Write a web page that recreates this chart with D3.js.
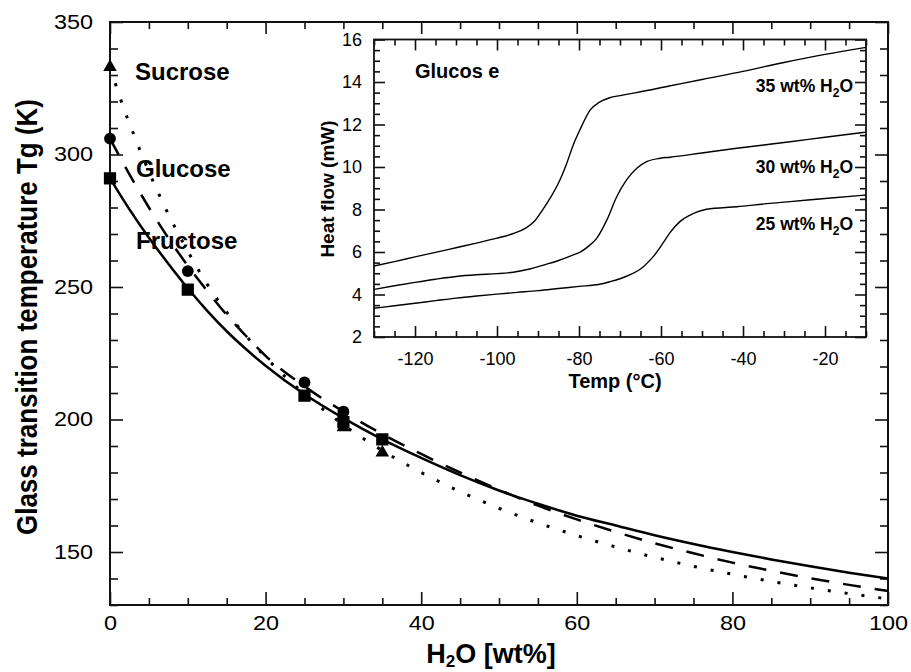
<!DOCTYPE html>
<html>
<head>
<meta charset="utf-8">
<script src="https://cdn.jsdelivr.net/npm/d3@7"></script>
<style>
  body { margin: 0; background: #fff; }
  svg { display: block; }
  text { font-family: "Liberation Sans", Arial, Helvetica, sans-serif; fill: #000; }
</style>
</head>
<body>
<svg id="chart" width="911" height="672"></svg>
<script>
// ---- Main panel: glass transition temperature vs. water content ----
// Fitted curves (water wt%, Tg in K)
const fructoseFitWater = [0, 2.5, 5, 7.5, 10, 12.5, 15, 17.5, 20, 25, 30, 35, 40, 45, 50, 55, 60, 65, 70, 75, 80, 85, 90, 95, 100];
const fructoseFitTg    = [291, 279.3, 268.6, 258.8, 249.5, 241, 233.3, 226.5, 220.3, 209.5, 200.5, 192.5, 185.5, 179, 173.2, 168.2, 163.7, 160, 156.3, 153, 150, 147.2, 144.6, 142.2, 140];

const glucoseFitWater = [0, 2.5, 5, 7.5, 10, 12.5, 15, 17.5, 20, 25, 30, 35, 40, 45, 50, 55, 60, 65, 70, 75, 80, 85, 90, 95, 100];
const glucoseFitTg    = [306, 292.5, 280, 268.5, 258, 248.5, 239.5, 231.5, 224, 212.5, 203, 194.5, 187, 180, 173.5, 167.5, 162.3, 157.6, 153.3, 149.5, 146, 142.9, 140.1, 137.6, 135.3];

const sucroseFitWater = [0, 1, 2, 3, 4, 5, 7.5, 10, 12.5, 15, 17.5, 20, 22.5, 25, 27.5, 30, 35, 40, 45, 50, 55, 60, 65, 70, 75, 80, 85, 90, 95, 100];
const sucroseFitTg    = [333, 324, 315.5, 308, 300.5, 293.5, 277.5, 263.5, 251, 240.5, 231.5, 223.5, 216.2, 209.6, 203.6, 198, 188.3, 180, 172.8, 166.5, 161, 156.2, 151.9, 148, 144.6, 141.6, 138.9, 136.5, 134.3, 132.3];

// Measured points
const fructoseWater = [0, 10, 25, 30, 35];
const fructoseTg    = [291, 249, 209, 199, 192.5];
const glucoseWater  = [0, 10, 25, 30];
const glucoseTg     = [306, 256, 214, 203];
const sucroseWater  = [0, 30, 35];
const sucroseTg     = [333, 197, 187.5];

// Axis ticks
const waterTicks = [0, 20, 40, 60, 80, 100];
const tgTicks    = [150, 200, 250, 300, 350];

// ---- Inset: DSC heat-flow traces for glucose ----
const dsc35Temp = [-130, -125, -120, -115, -110, -105, -100, -96, -93, -91, -89, -87, -85, -83, -81.4, -79.8, -77.3, -75, -72.5, -70, -66, -58, -50, -40, -30, -20, -10];
const dsc35Heat = [5.34, 5.55, 5.77, 5.98, 6.2, 6.42, 6.65, 6.87, 7.12, 7.42, 7.95, 8.55, 9.25, 10.17, 11.04, 11.74, 12.68, 13.05, 13.26, 13.36, 13.5, 13.81, 14.12, 14.5, 14.92, 15.3, 15.63];

const dsc30Temp = [-130, -125, -120, -115, -110, -105, -100, -96, -92, -88, -85, -82, -79.5, -77.5, -75.7, -73.2, -70.8, -68.4, -65.9, -63.5, -60.2, -57.8, -50, -41.5, -33.5, -28.5, -20, -10];
const dsc30Heat = [4.24, 4.41, 4.57, 4.72, 4.85, 4.93, 4.98, 5.05, 5.2, 5.42, 5.6, 5.82, 6.02, 6.3, 6.64, 7.51, 8.6, 9.39, 9.94, 10.25, 10.41, 10.46, 10.66, 10.88, 11.07, 11.19, 11.4, 11.64];

const dsc25Temp = [-130, -125, -120, -115, -110, -105, -100, -95, -90, -85, -80, -75, -72.5, -70, -67.5, -64.3, -61.9, -59.4, -57.8, -55.4, -52.9, -50.5, -48.9, -41.5, -33.4, -28.5, -20, -10];
const dsc25Heat = [3.35, 3.47, 3.59, 3.71, 3.83, 3.93, 4.02, 4.1, 4.18, 4.28, 4.38, 4.48, 4.6, 4.74, 4.93, 5.31, 5.78, 6.45, 6.91, 7.43, 7.74, 7.93, 8.01, 8.13, 8.29, 8.37, 8.52, 8.68];

const dscLabels = ["35", "30", "25"];
const tempTicks = [-120, -100, -80, -60, -40, -20];
const heatTicks = [2, 4, 6, 8, 10, 12, 14, 16];

const svg = d3.select("#chart");
svg.append("rect").attr("width", 911).attr("height", 672).attr("fill", "#fff");

const zip = (a, b) => a.map((v, i) => [v, b[i]]);

// Draw a set of inward ticks (majors with labels, minors without)
function tickSet(g, axisGen, values, len, fmt, pad) {
  g.call(axisGen.tickValues(values).tickSizeInner(-len).tickSizeOuter(0)
    .tickPadding(pad).tickFormat(fmt));
  g.select(".domain").remove();
  g.selectAll(".tick line").attr("stroke", "#111").attr("stroke-width", 1.6);
  g.attr("font-family", null).attr("font-size", null);
  return g;
}

// ================= Main panel =================
const x = d3.scaleLinear().domain([0, 100]).range([110, 888]);
const y = d3.scaleLinear().domain([130, 350]).range([605, 22]);
const main = svg.append("g");

const xMinor = d3.range(0, 101, 5).filter(v => !waterTicks.includes(v));
const yMinor = d3.range(130, 351, 10).filter(v => !tgTicks.includes(v));

// bottom
const bMaj = tickSet(main.append("g").attr("transform", `translate(0,${y.range()[0]})`),
  d3.axisBottom(x), waterTicks, 13, d => d, 11);
bMaj.selectAll(".tick text").attr("font-size", 19.5).attr("transform", "scale(1.2,1)");
tickSet(main.append("g").attr("transform", `translate(0,${y.range()[0]})`),
  d3.axisBottom(x), xMinor, 7, () => "", 0);
// top
tickSet(main.append("g").attr("transform", `translate(0,${y.range()[1]})`),
  d3.axisTop(x), waterTicks, 12, () => "", 0);
tickSet(main.append("g").attr("transform", `translate(0,${y.range()[1]})`),
  d3.axisTop(x), xMinor, 7, () => "", 0);
// left
const lMaj = tickSet(main.append("g").attr("transform", `translate(${x.range()[0]},0)`),
  d3.axisLeft(y), tgTicks, 13, d => d, 14.2);
lMaj.selectAll(".tick text").attr("font-size", 19.5).attr("transform", "scale(1.2,1)");
tickSet(main.append("g").attr("transform", `translate(${x.range()[0]},0)`),
  d3.axisLeft(y), yMinor, 8, () => "", 0);
// right
tickSet(main.append("g").attr("transform", `translate(${x.range()[1]},0)`),
  d3.axisRight(y), tgTicks, 13, () => "", 0);
tickSet(main.append("g").attr("transform", `translate(${x.range()[1]},0)`),
  d3.axisRight(y), yMinor, 8, () => "", 0);

// frame
main.append("rect")
  .attr("x", x.range()[0]).attr("y", y.range()[1])
  .attr("width", x.range()[1] - x.range()[0]).attr("height", y.range()[0] - y.range()[1])
  .attr("fill", "none").attr("stroke", "#111").attr("stroke-width", 2);

// sugar names
const nameStyle = t => t.attr("font-size", 24).attr("font-weight", "bold");
main.append("text").attr("x", 135).attr("y", 80).text("Sucrose").call(nameStyle);
main.append("text").attr("x", 136).attr("y", 177).text("Glucose").call(nameStyle);
main.append("text").attr("x", 136).attr("y", 249).text("Fructose").call(nameStyle);

// fit curves
const fitLine = d3.line().x(d => x(d[0])).y(d => y(d[1])).curve(d3.curveMonotoneX);
main.append("path").datum(zip(fructoseFitWater, fructoseFitTg))
  .attr("d", fitLine).attr("fill", "none").attr("stroke", "#000").attr("stroke-width", 2.5);
main.append("path").datum(zip(glucoseFitWater, glucoseFitTg))
  .attr("d", fitLine).attr("fill", "none").attr("stroke", "#000").attr("stroke-width", 2.5)
  .attr("stroke-dasharray", "18,14");
main.append("path").datum(zip(sucroseFitWater, sucroseFitTg))
  .attr("d", fitLine).attr("fill", "none").attr("stroke", "#000").attr("stroke-width", 3)
  .attr("stroke-dasharray", "3,14");

// data markers
function markers(xs, ys, type, size) {
  main.append("g").selectAll("path").data(zip(xs, ys)).join("path")
    .attr("transform", d => `translate(${x(d[0])},${y(d[1])})`)
    .attr("d", d3.symbol().type(type).size(size))
    .attr("fill", "#000");
}
markers(sucroseWater, sucroseTg, d3.symbolTriangle, 80);
markers(glucoseWater, glucoseTg, d3.symbolCircle, 110);
markers(fructoseWater, fructoseTg, d3.symbolSquare, 150);

// axis titles
const xTitle = main.append("text").attr("x", 491).attr("y", 663)
  .attr("text-anchor", "middle").attr("font-size", 27).attr("font-weight", "bold");
xTitle.append("tspan").text("H");
xTitle.append("tspan").attr("font-size", 17).attr("dy", 4).text("2");
xTitle.append("tspan").attr("dy", -4).text("O [wt%]");

main.append("text")
  .attr("transform", "translate(37,317) scale(1.15,1) rotate(-90)")
  .attr("text-anchor", "middle").attr("font-size", 26).attr("font-weight", "bold")
  .text("Glass transition temperature Tg (K)");

// ================= Inset =================
const ix = d3.scaleLinear().domain([-130, -10]).range([374, 866]);
const iy = d3.scaleLinear().domain([2, 16]).range([337, 39.5]);
const inset = svg.append("g");

inset.append("rect")
  .attr("x", ix.range()[0]).attr("y", iy.range()[1])
  .attr("width", ix.range()[1] - ix.range()[0]).attr("height", iy.range()[0] - iy.range()[1])
  .attr("fill", "#fff");

const txMinor = d3.range(-130, -9, 5).filter(v => !tempTicks.includes(v));
const hyMinor = d3.range(2, 16.01, 0.5).filter(v => !heatTicks.includes(v));

const ib = tickSet(inset.append("g").attr("transform", `translate(0,${iy.range()[0]})`),
  d3.axisBottom(ix), tempTicks, 11, d => String(d), 15.2);
ib.selectAll(".tick text").attr("font-size", 18);
tickSet(inset.append("g").attr("transform", `translate(0,${iy.range()[0]})`),
  d3.axisBottom(ix), txMinor, 6, () => "", 0);
tickSet(inset.append("g").attr("transform", `translate(0,${iy.range()[1]})`),
  d3.axisTop(ix), tempTicks, 11, () => "", 0);
tickSet(inset.append("g").attr("transform", `translate(0,${iy.range()[1]})`),
  d3.axisTop(ix), txMinor, 6, () => "", 0);
const il = tickSet(inset.append("g").attr("transform", `translate(${ix.range()[0]},0)`),
  d3.axisLeft(iy), heatTicks, 11, d => String(d), 12);
il.selectAll(".tick text").attr("font-size", 18);
tickSet(inset.append("g").attr("transform", `translate(${ix.range()[0]},0)`),
  d3.axisLeft(iy), hyMinor, 6, () => "", 0);
tickSet(inset.append("g").attr("transform", `translate(${ix.range()[1]},0)`),
  d3.axisRight(iy), heatTicks, 11, () => "", 0);
tickSet(inset.append("g").attr("transform", `translate(${ix.range()[1]},0)`),
  d3.axisRight(iy), hyMinor, 6, () => "", 0);

inset.append("rect")
  .attr("x", ix.range()[0]).attr("y", iy.range()[1])
  .attr("width", ix.range()[1] - ix.range()[0]).attr("height", iy.range()[0] - iy.range()[1])
  .attr("fill", "none").attr("stroke", "#111").attr("stroke-width", 1.8);

const dscLine = d3.line().x(d => ix(d[0])).y(d => iy(d[1])).curve(d3.curveMonotoneX);
[[dsc35Temp, dsc35Heat], [dsc30Temp, dsc30Heat], [dsc25Temp, dsc25Heat]].forEach(([t, h]) => {
  inset.append("path").datum(zip(t, h)).attr("d", dscLine)
    .attr("fill", "none").attr("stroke", "#000").attr("stroke-width", 1.4);
});

inset.append("text").attr("x", 415).attr("y", 78)
  .attr("font-size", 20).attr("font-weight", "bold").text("Glucos e");

const labelBaselines = [91.7, 173.3, 230];
dscLabels.forEach((w, i) => {
  const t = inset.append("text").attr("x", 853).attr("y", labelBaselines[i])
    .attr("text-anchor", "end").attr("font-size", 17.5).attr("font-weight", "bold");
  t.append("tspan").text(`${w} wt% H`);
  t.append("tspan").attr("font-size", 12).attr("dy", 5).text("2");
  t.append("tspan").attr("dy", -5).text("O");
});

inset.append("text").attr("x", 615).attr("y", 388)
  .attr("text-anchor", "middle").attr("font-size", 20).attr("font-weight", "bold")
  .text("Temp (°C)");
inset.append("text")
  .attr("transform", "translate(334,189) rotate(-90)")
  .attr("text-anchor", "middle").attr("font-size", 19).attr("font-weight", "bold")
  .text("Heat flow (mW)");
</script>
</body>
</html>
